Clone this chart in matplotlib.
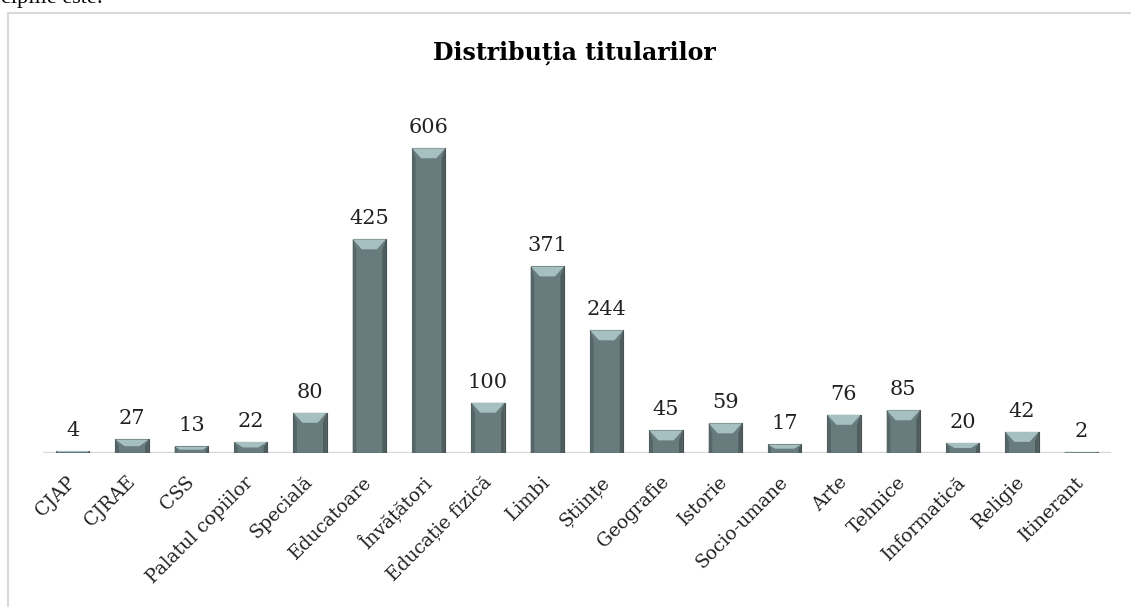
import matplotlib
matplotlib.use("Agg")
import matplotlib.pyplot as plt
from matplotlib.patches import Polygon, Rectangle

# Data
categories = ["CJAP", "CJRAE", "CSS", "Palatul copiilor", "Specială", "Educatoare",
              "Învățători", "Educație fizică", "Limbi", "Științe", "Geografie", "Istorie",
              "Socio-umane", "Arte", "Tehnice", "Informatică", "Religie", "Itinerant"]
values = [4, 27, 13, 22, 80, 425, 606, 100, 371, 244, 45, 59, 17, 76, 85, 20, 42, 2]
title = "Distribuția titularilor"

W, H = 1131, 607
fig = plt.figure(figsize=(W / 100, H / 100), dpi=100)
plt.rcParams['font.family'] = ['DejaVu Serif']

# chart frame, runs off the right and bottom edges
fig.patches.append(Rectangle((8 / W, -0.1), 1.2, (H - 13) / H + 0.1, transform=fig.transFigure,
                             facecolor="none", edgecolor="#d9d9d9", lw=1.5))
# leftover document text cut off at the top
fig.text(1 / W, 1 - 3 / H, "cipiile este:", fontsize=16, family="Liberation Serif",
         ha="left", va="baseline")

ax = fig.add_axes([43 / W, (H - 453) / H, (1111 - 43) / W, 352 / H])
ymax = 700
n = len(categories)
ax.set_xlim(-0.5, n - 0.5)
ax.set_ylim(0, ymax)
for s in ax.spines.values():
    s.set_visible(False)
ax.axhline(0, color="#d9d9d9", lw=2.5, zorder=1)
ax.set_yticks([])

bw = 0.56
bars = ax.bar(range(n), values, width=bw, color="#687b7d", edgecolor="#46514f",
              lw=0.8, zorder=2)

# bevel look: light top, darker sides
px_y = ymax / 352.0
px_x = n / 1068.0
for b, v in zip(bars, values):
    x0, x1 = b.get_x(), b.get_x() + b.get_width()
    h = b.get_height()
    d = min(10 * px_y, h / 2)
    dx = min(9 * px_x, bw / 2 * d / (10 * px_y))
    ax.add_patch(Polygon([(x0, h), (x1, h), (x1 - dx, h - d), (x0 + dx, h - d)],
                         closed=True, facecolor="#a6bfc0", edgecolor="none", zorder=3))
    ax.add_patch(Polygon([(x0, 0), (x0, h), (x0 + dx * 0.4, h - d), (x0 + dx * 0.4, 0)],
                         closed=True, facecolor="#566668", edgecolor="none", zorder=3))
    ax.add_patch(Polygon([(x1, 0), (x1, h), (x1 - dx * 0.4, h - d), (x1 - dx * 0.4, 0)],
                         closed=True, facecolor="#4f5d5f", edgecolor="none", zorder=3))
    ax.text(b.get_x() + bw / 2, h + 11 * px_y, str(v), ha="center", va="bottom",
            fontsize=15, color="#222222")

ax.set_xticks(range(n))
ax.set_xticklabels(categories, rotation=45, ha="right", va="center", rotation_mode="anchor",
                   fontsize=13.5, color="#222222")
ax.tick_params(axis="x", length=0, pad=19)

fig.text(574 / W, 1 - 53 / H, title, ha="center", va="center", fontsize=17, fontweight="bold")

fig.savefig("out.png", dpi=100)
